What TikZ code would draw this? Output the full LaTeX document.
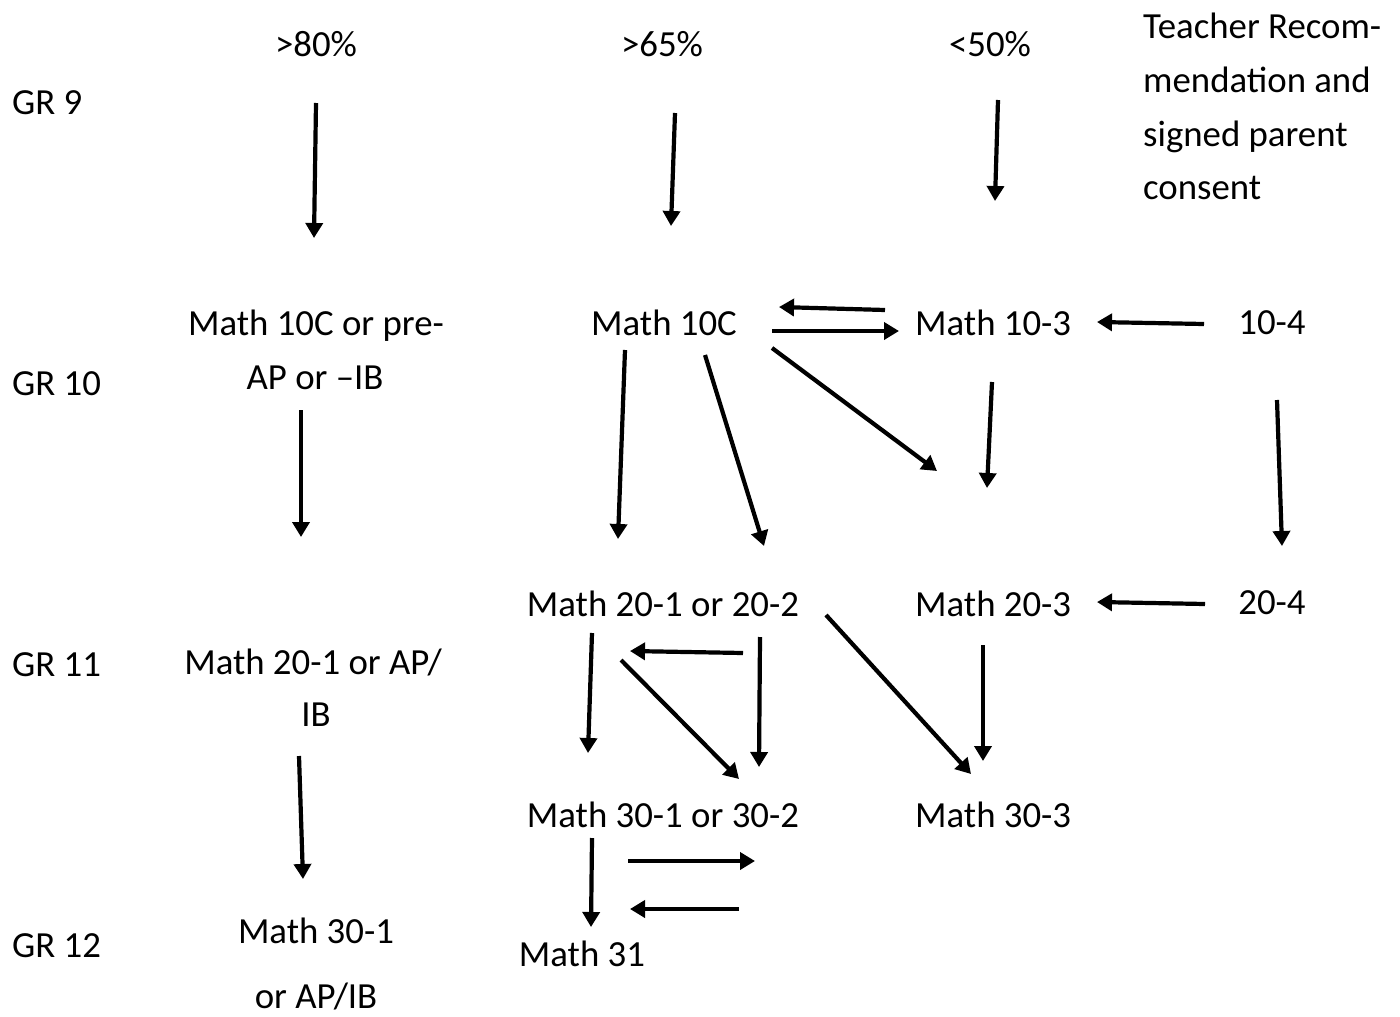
\documentclass[tikz,border=0pt]{standalone}
\usepackage{fontspec}
\setmainfont{Carlito}
\usetikzlibrary{arrows.meta}
\begin{document}
\begin{tikzpicture}[x=1pt,y=-1pt,
  txt/.style={inner sep=0pt,anchor=base,font=\fontsize{36.8}{44}\selectfont},
  txtw/.style={txt,anchor=base west},
  arr/.style={line width=4.2pt,-{Triangle[length=15pt,width=17pt]}}]
\useasboundingbox[fill=white] (0,0) rectangle (1400,1017);
% grade labels
\node[txtw] (gr9)  at (12,114) {GR 9};
\node[txtw] (gr10) at (12,395) {GR 10};
\node[txtw] (gr11) at (12,676) {GR 11};
\node[txtw] (gr12) at (12,957) {GR 12};
% top labels
\node[txt] (p80) at (316,56) {>80\%};
\node[txt] (p65) at (662,56) {>65\%};
\node[txt] (p50) at (990,56) {<50\%};
\node[txtw] (tr1) at (1143,38) {Teacher Recom-};
\node[txtw] (tr2) at (1143,92) {mendation and};
\node[txtw] (tr3) at (1143,146) {signed parent};
\node[txtw] (tr4) at (1143,199) {consent};
% left column
\node[txt] (l10a) at (316,335) {Math 10C or pre-};
\node[txt] (l10b) at (315,389) {AP or –IB};
\node[txt] (l11a) at (313,674) {Math 20-1 or AP/};
\node[txt] (l11b) at (316,726) {IB};
\node[txt] (l12a) at (316,943) {Math 30-1};
\node[txt] (l12b) at (316,1008) {or AP/IB};
% middle
\node[txt] (m10c) at (664,335) {Math 10C};
\node[txt] (m20) at (663,616) {Math 20-1 or 20-2};
\node[txt] (m30) at (663,827) {Math 30-1 or 30-2};
\node[txt] (m31) at (582,966) {Math 31};
% right
\node[txtw] (m103) at (915,335) {Math 10-3};
\node[txtw] (m203) at (915,616) {Math 20-3};
\node[txtw] (m303) at (915,827) {Math 30-3};
\node[txt] (k104) at (1272,334) {10-4};
\node[txt] (k204) at (1272,614) {20-4};
% arrow end points
\coordinate (a1s) at (316,103);  \coordinate (a1e) at (314,238);
\coordinate (a2s) at (675,113);  \coordinate (a2e) at (671,226);
\coordinate (a3s) at (998,100);  \coordinate (a3e) at (995,201);
\coordinate (a4s) at (885,310);  \coordinate (a4e) at (779,307);
\coordinate (a5s) at (772,331);  \coordinate (a5e) at (899,331);
\coordinate (a6s) at (1204,324); \coordinate (a6e) at (1097,322);
\coordinate (a7s) at (301,410);  \coordinate (a7e) at (301,537);
\coordinate (a8s) at (625,350);  \coordinate (a8e) at (618,539);
\coordinate (a9s) at (705,355);  \coordinate (a9e) at (764,546);
\coordinate (a10s) at (772,348); \coordinate (a10e) at (937,471);
\coordinate (a11s) at (992,382); \coordinate (a11e) at (987,488);
\coordinate (a12s) at (1277,400); \coordinate (a12e) at (1282,546);
\coordinate (a13s) at (1205,604); \coordinate (a13e) at (1097,602);
\coordinate (a14s) at (592,633); \coordinate (a14e) at (588,753);
\coordinate (a15s) at (743,653); \coordinate (a15e) at (630,651);
\coordinate (a16s) at (621,660); \coordinate (a16e) at (739,779);
\coordinate (a17s) at (760,637); \coordinate (a17e) at (759,767);
\coordinate (a18s) at (826,615); \coordinate (a18e) at (971,774);
\coordinate (a19s) at (983,645); \coordinate (a19e) at (983,761);
\coordinate (a20s) at (299,756); \coordinate (a20e) at (303,879);
\coordinate (a21s) at (592,838); \coordinate (a21e) at (591,927);
\coordinate (a22s) at (628,861); \coordinate (a22e) at (755,861);
\coordinate (a23s) at (739,909); \coordinate (a23e) at (630,909);
\foreach \i in {1,...,23}{\draw[arr] (a\i s) -- (a\i e);}
\end{tikzpicture}
\end{document}
